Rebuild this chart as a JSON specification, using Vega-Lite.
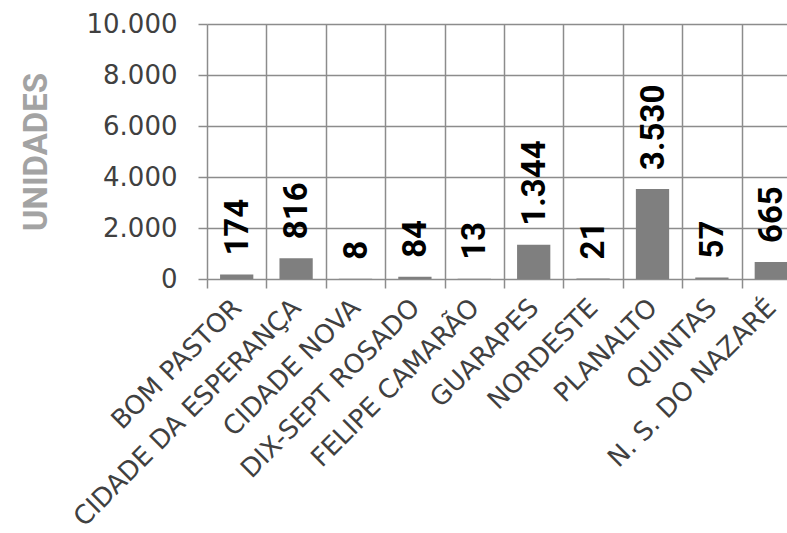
{
  "$schema": "https://vega.github.io/schema/vega-lite/v6.json",
  "autosize": {"type": "none"},
  "padding": {"left": 207, "top": 24, "right": 0, "bottom": 254},
  "width": 580,
  "height": 255,
  "background": "white",
  "config": {
    "view": {"stroke": null},
    "locale": {"number": {"decimal": ",", "thousands": ".", "grouping": [3], "currency": ["R$", ""]}}
  },
  "data": {"values": [
    {"bairro": "BOM PASTOR", "unidades": 174},
    {"bairro": "CIDADE DA ESPERANÇA", "unidades": 816},
    {"bairro": "CIDADE NOVA", "unidades": 8},
    {"bairro": "DIX-SEPT ROSADO", "unidades": 84},
    {"bairro": "FELIPE CAMARÃO", "unidades": 13},
    {"bairro": "GUARAPES", "unidades": 1344},
    {"bairro": "NORDESTE", "unidades": 21},
    {"bairro": "PLANALTO", "unidades": 3530},
    {"bairro": "QUINTAS", "unidades": 57},
    {"bairro": "N. S. DO NAZARÉ", "unidades": 665}
  ]},
  "encoding": {
    "x": {
      "field": "bairro", "type": "nominal", "sort": null,
      "scale": {"range": [0, 594], "paddingInner": 0, "paddingOuter": 0},
      "axis": {
        "title": null, "labelAngle": -45, "labelFont": "DejaVu Sans", "labelFontSize": 26,
        "labelColor": "#404040", "labelPadding": 6, "labelOffset": -9, "labelOverlap": false, "labelLimit": 0,
        "tickBand": "extent", "tickSize": 9, "tickColor": "#8c8c8c", "tickWidth": 1.5,
        "grid": true, "gridColor": "#8c8c8c", "gridWidth": 1.5, "domain": false
      }
    },
    "y": {
      "field": "unidades", "type": "quantitative",
      "scale": {"domain": [0, 10000], "nice": false},
      "axis": {
        "values": [0, 2000, 4000, 6000, 8000, 10000], "format": ",d",
        "title": "UNIDADES", "titleFont": "Roboto", "titleFontWeight": "bold",
        "titleFontSize": 33, "titleColor": "#a3a3a3", "titlePadding": 33,
        "labelFont": "DejaVu Sans", "labelFontSize": 26, "labelColor": "#404040", "labelPadding": 21,
        "tickSize": 9, "tickColor": "#8c8c8c", "tickWidth": 1.5,
        "grid": true, "gridColor": "#8c8c8c", "gridWidth": 1.5, "domain": false
      }
    }
  },
  "layer": [
    {"mark": {"type": "bar", "color": "#7f7f7f", "width": {"band": 0.56}}},
    {
      "mark": {"type": "text", "angle": -90, "align": "left", "baseline": "middle", "dx": 19, "dy": 1,
               "font": "Roboto", "fontWeight": "bold", "fontSize": 33, "color": "black"},
      "encoding": {"text": {"field": "unidades", "type": "quantitative", "format": ",d"}}
    }
  ]
}
